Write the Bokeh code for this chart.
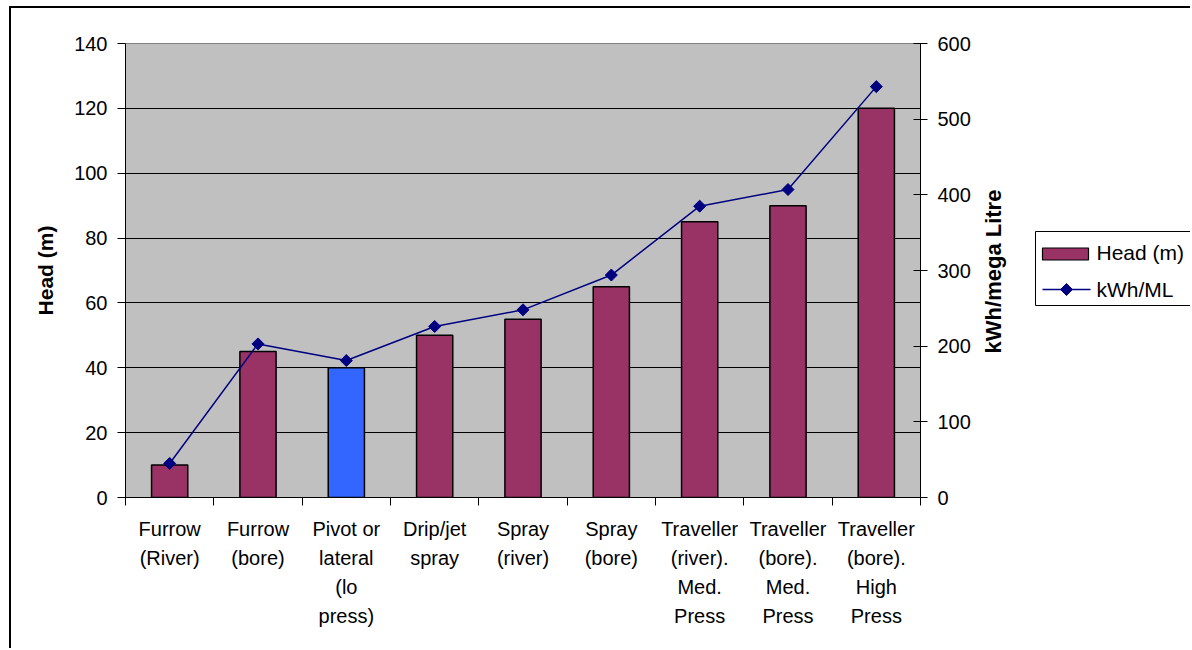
import numpy as np
from bokeh.plotting import figure
from bokeh.layouts import row
from bokeh.models import ColumnDataSource, Range1d, LinearAxis, FixedTicker
from bokeh.core.properties import value
from bokeh.embed import file_html
from bokeh.resources import INLINE

# --- data -------------------------------------------------------------
categories = [
    "Furrow\n(River)",
    "Furrow\n(bore)",
    "Pivot or\nlateral\n(lo\npress)",
    "Drip/jet\nspray",
    "Spray\n(river)",
    "Spray\n(bore)",
    "Traveller\n(river).\nMed.\nPress",
    "Traveller\n(bore).\nMed.\nPress",
    "Traveller\n(bore).\nHigh\nPress",
]
head_m = [10, 45, 40, 50, 55, 65, 85, 90, 120]
kwh_per_ml = [45, 203, 181, 226, 248, 294, 385, 407, 543]
head_ticks = [0, 20, 40, 60, 80, 100, 120, 140]
kwh_ticks = [0, 100, 200, 300, 400, 500, 600]
series_names = ["Head (m)", "kWh/ML"]
right_title = "kWh/mega Litre"

# --- styling ----------------------------------------------------------
FONT = "Liberation Sans"
BAR = "#993366"
HIGHLIGHT = "#3366FF"
LINE = "#000080"
PLOT_BG = "#C0C0C0"
INK = "black"

n = len(categories)
centers = [i + 0.5 for i in range(n)]
bounds = list(range(n + 1))
colors = [HIGHLIGHT if c.startswith("Pivot") else BAR for c in categories]

src = ColumnDataSource(dict(x=centers, head=head_m, kwh=kwh_per_ml, color=colors))

# ---------------------------------------------------------------------
# main chart
# ---------------------------------------------------------------------
H = 642
BORDER_T, BORDER_B = 35, 153
p = figure(
    width=964, height=H,
    output_backend="svg", toolbar_location=None,
    x_range=Range1d(0, n), y_range=Range1d(0, head_ticks[-1]),
    min_border_left=114, min_border_right=55,
    min_border_top=BORDER_T, min_border_bottom=BORDER_B,
)
p.styles = {
    "margin-left": "9px", "margin-top": "6px",
    "border-left": "2px solid black", "border-top": "2px solid black",
}
p.extra_y_ranges = {"kwh": Range1d(0, kwh_ticks[-1])}
p.background_fill_color = PLOT_BG
p.border_fill_color = "white"
p.outline_line_color = "#808080"

# grid
p.xgrid.visible = False
p.ygrid.ticker = FixedTicker(ticks=head_ticks)
p.ygrid.grid_line_color = "black"
p.ygrid.grid_line_width = 1

# left axis
ya = p.yaxis[0]
ya.ticker = FixedTicker(ticks=head_ticks)
ya.axis_label = "Head (m)"
ya.axis_label_text_font = FONT
ya.axis_label_text_font_size = "21px"
ya.axis_label_text_font_style = "bold"
ya.axis_label_text_color = INK
ya.axis_label_standoff = 14
ya.major_label_text_font = FONT
ya.major_label_text_font_size = "20px"
ya.major_label_text_color = INK
ya.major_label_standoff = 10
ya.major_tick_in = 0
ya.major_tick_out = 8
ya.minor_tick_line_color = None
ya.axis_line_color = INK

# bottom axis: labels at category centres, ticks between categories
xa = p.xaxis[0]
xa.ticker = FixedTicker(ticks=centers, minor_ticks=bounds)
xa.major_label_overrides = {c: lab for c, lab in zip(centers, categories)}
xa.major_label_text_font = FONT
xa.major_label_text_font_size = "20px"
xa.major_label_text_color = INK
xa.major_label_text_line_height = 1.32
xa.major_label_standoff = 12
xa.major_tick_line_color = None
xa.major_tick_in = 0
xa.major_tick_out = 0
xa.minor_tick_in = 0
xa.minor_tick_out = 8
xa.minor_tick_line_color = INK
xa.axis_line_color = INK

# right axis (its title is set beside it in the side panel)
ra = LinearAxis(y_range_name="kwh", ticker=FixedTicker(ticks=kwh_ticks))
ra.major_label_text_font = FONT
ra.major_label_text_font_size = "20px"
ra.major_label_text_color = INK
ra.major_label_standoff = 10
ra.major_tick_in = 7
ra.major_tick_out = 7
ra.minor_tick_line_color = None
ra.axis_line_color = INK
p.add_layout(ra, "right")

# glyphs
p.vbar(x="x", top="head", bottom=0, width=0.41, source=src,
       fill_color="color", line_color="black", line_width=1.5)
p.line(x="x", y="kwh", source=src, y_range_name="kwh",
       line_color=LINE, line_width=1.5)
p.scatter(x="x", y="kwh", source=src, y_range_name="kwh",
          marker="square", angle=np.pi / 4, size=8.5,
          fill_color=LINE, line_color=LINE)

# ---------------------------------------------------------------------
# side panel: right-axis title and legend, in page pixels (y measured up
# from the bottom of the page, so y = 650 - top offset)
# ---------------------------------------------------------------------
X0, X1 = 975, 1192
PAGE_H = 650
leg = figure(
    width=X1 - X0, height=H,
    output_backend="svg", toolbar_location=None,
    x_range=Range1d(X0, X1),
    y_range=Range1d(PAGE_H - 497, PAGE_H - 43),
    min_border_left=0, min_border_right=0,
    min_border_top=BORDER_T, min_border_bottom=BORDER_B,
    x_axis_type=None, y_axis_type=None,
)
leg.styles = {"margin-top": "6px", "border-top": "2px solid black"}
leg.grid.visible = False
leg.outline_line_color = None
leg.background_fill_color = "white"
leg.border_fill_color = "white"


def up(y_top):
    return PAGE_H - y_top


# right-axis title
leg.text(x=[995], y=[up(271)], text=[right_title], angle=np.pi / 2,
         text_font=value(FONT), text_font_size="22px", text_font_style="bold",
         text_color=INK, text_align="center", text_baseline="middle")

# legend frame
leg.quad(left=[1037], right=[X1 + 20], top=[up(231)], bottom=[up(305)],
         fill_color="white", line_color="black", line_width=1)
# bar swatch
leg.quad(left=[1044], right=[1090], top=[up(247.5)], bottom=[up(259.5)],
         fill_color=BAR, line_color="black", line_width=1.2)
# line swatch with marker
leg.line(x=[1044, 1092], y=[up(289), up(289)], line_color=LINE, line_width=1.5)
leg.scatter(x=[1068], y=[up(289)], marker="square", angle=np.pi / 4, size=8.5,
            fill_color=LINE, line_color=LINE)
leg.text(x=[1098, 1098], y=[up(252), up(289)], text=series_names,
         text_font=value(FONT), text_font_size="21px", text_color=INK,
         text_baseline="middle", text_align="left")

open("out.html", "w").write(file_html(row(p, leg), INLINE))
